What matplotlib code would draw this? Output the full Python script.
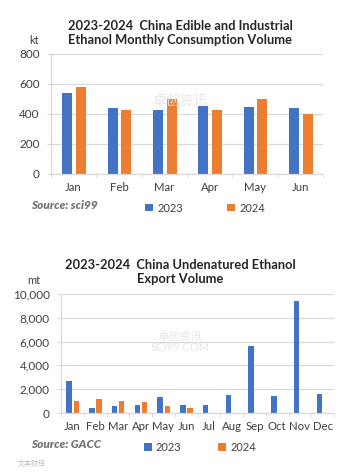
import matplotlib
matplotlib.use("Agg")
import matplotlib.pyplot as plt
import numpy as np
from matplotlib.ticker import FuncFormatter

plt.rcParams['font.family'] = ['Lato', 'Noto Sans CJK SC', 'DejaVu Sans']

# Chart 1 data
months1 = ["Jan", "Feb", "Mar", "Apr", "May", "Jun"]
cons_2023 = [540, 438, 428, 450, 445, 438]
cons_2024 = [578, 428, 498, 428, 498, 398]
yticks1 = [0, 200, 400, 600, 800]

# Chart 2 data
months2 = ["Jan", "Feb", "Mar", "Apr", "May", "Jun", "Jul", "Aug", "Sep", "Oct", "Nov", "Dec"]
exp_2023 = [2650, 450, 550, 650, 1350, 650, 650, 1500, 5600, 1450, 9400, 1600]
exp_2024 = [1000, 1200, 1050, 900, 550, 400]
yticks2 = [0, 2000, 4000, 6000, 8000, 10000]

BLUE = "#4472C4"
ORANGE = "#ED7D31"
GRID = "#D9D9D9"
TXT = "#404040"

W, H = 354, 473
fig = plt.figure(figsize=(W / 100, H / 100), dpi=100)
fig.patch.set_facecolor("white")


def px_axes(left, top, right, bottom):
    return fig.add_axes([left / W, 1 - bottom / H, (right - left) / W, (bottom - top) / H])


def style(ax, ncat, yt, fmt):
    ax.set_xlim(-0.5, ncat - 0.5)
    ax.set_ylim(yt[0], yt[-1])
    ax.set_yticks(yt)
    ax.yaxis.set_major_formatter(FuncFormatter(fmt))
    ax.grid(axis="y", color=GRID, linewidth=0.9)
    ax.set_axisbelow(True)
    for s in ["top", "right"]:
        ax.spines[s].set_visible(False)
    ax.spines["left"].set_color(GRID)
    ax.spines["bottom"].set_color(GRID)
    ax.spines["left"].set_linewidth(0.9)
    ax.spines["bottom"].set_linewidth(0.9)
    ax.tick_params(axis="y", length=3, color=GRID, labelsize=8.5, labelcolor=TXT, pad=5)
    ax.set_xticks(np.arange(ncat))
    ax.tick_params(axis="x", length=0, labelsize=8.2, labelcolor=TXT, pad=6)
    ax.set_xticks(np.arange(ncat + 1) - 0.5, minor=True)
    ax.tick_params(axis="x", which="minor", length=3, color=GRID)


# ---------- Chart 1 ----------
ax1 = px_axes(51, 54, 323, 174)
x1 = np.arange(len(months1))
bw1 = 0.22
ax1.bar(x1 - 0.14, cons_2023, width=bw1, color=BLUE, label="2023")
ax1.bar(x1 + 0.16, cons_2024, width=bw1, color=ORANGE, label="2024")
style(ax1, len(months1), yticks1, lambda v, p: f"{int(v)}")
ax1.set_xticklabels(months1)
fig.text(180 / W, 1 - 33 / H, "2023-2024  China Edible and Industrial\nEthanol Monthly Consumption Volume",
         ha="center", va="center", fontsize=9.3, fontweight="bold", color="#262626", linespacing=1.2)
fig.text(34 / W, 1 - 40 / H, "kt", ha="center", va="center", fontsize=8, color=TXT)
fig.text(31 / W, 1 - 205 / H, "Source: sci99", ha="left", va="center", fontsize=8.5,
         fontweight="heavy", fontstyle="italic", color="#767676")
ax1.legend(loc="center", bbox_to_anchor=(205 / W, 1 - 208 / H), bbox_transform=fig.transFigure,
           ncol=2, frameon=False, fontsize=8, handlelength=0.7, handleheight=0.7,
           columnspacing=4.0, handletextpad=0.4, labelcolor=TXT)
fig.text(180 / W, 1 - 100 / H, "卓创资讯", ha="center", va="center", fontsize=10,
         color="#E6E6E6", zorder=0)

# ---------- Chart 2 ----------
ax2 = px_axes(61, 294, 334, 413)
x2 = np.arange(len(months2))
x2b = np.arange(len(exp_2024))
bw2 = 0.24
ax2.bar(x2 - 0.14, exp_2023, width=bw2, color=BLUE, label="2023")
ax2.bar(x2b + 0.17, exp_2024, width=bw2, color=ORANGE, label="2024")
style(ax2, len(months2), yticks2, lambda v, p: f"{int(v):,}")
ax2.set_xticklabels(months2)
fig.text(180 / W, 1 - 272 / H, "2023-2024  China Undenatured Ethanol\nExport Volume",
         ha="center", va="center", fontsize=9.3, fontweight="bold", color="#262626", linespacing=1.2)
fig.text(34 / W, 1 - 280 / H, "mt", ha="center", va="center", fontsize=8, color=TXT)
fig.text(31 / W, 1 - 444 / H, "Source: GACC", ha="left", va="center", fontsize=8.5,
         fontweight="heavy", fontstyle="italic", color="#767676")
ax2.legend(loc="center", bbox_to_anchor=(200 / W, 1 - 447 / H), bbox_transform=fig.transFigure,
           ncol=2, frameon=False, fontsize=8, handlelength=0.7, handleheight=0.7,
           columnspacing=3.3, handletextpad=0.4, labelcolor=TXT)
fig.text(180 / W, 1 - 342 / H, "卓创资讯\nSCI99.COM", ha="center", va="center", fontsize=8,
         color="#E6E6E6", zorder=0, linespacing=1.0)
fig.text(18 / W, 1 - 463 / H, "文本财经", ha="left", va="center", fontsize=5, color="#BBBBBB")

fig.savefig("out.png", dpi=100, facecolor="white")
